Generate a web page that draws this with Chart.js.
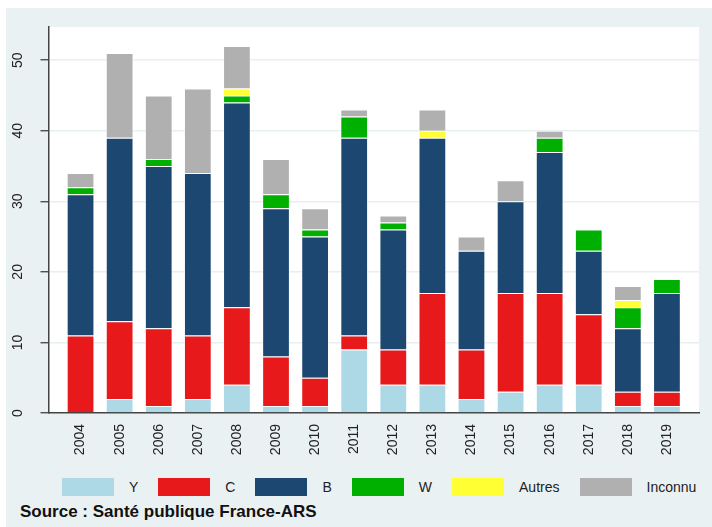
<!DOCTYPE html>
<html>
<head>
<meta charset="utf-8">
<script src="https://cdn.jsdelivr.net/npm/chart.js@4.4.0/dist/chart.umd.min.js"></script>
<style>
  body { margin: 0; background: #fff; font-family: "Liberation Sans", Arial, sans-serif; }
  #panel { position: absolute; left: 6px; top: 8px; width: 706px; height: 519px; background: #eaf1f3; }
  #box { position: absolute; left: 0; top: 0; width: 706px; height: 460px; }
  #legend { position: absolute; left: 56px; top: 470px; display: flex; align-items: center; font-size: 14px; color: #222; }
  #legend .item { display: flex; align-items: center; margin-right: 20px; }
  #legend .sw { width: 52px; height: 18px; margin-right: 15px; }
  #source { position: absolute; left: 14px; top: 494px; font-size: 17px; font-weight: bold; color: #111; }
</style>
</head>
<body>
<div id="panel">
  <div id="box"><canvas id="myChart"></canvas></div>
  <div id="legend"></div>
  <div id="source">Source : Santé publique France-ARS</div>
</div>
<script>
var years = [2004, 2005, 2006, 2007, 2008, 2009, 2010, 2011, 2012, 2013, 2014, 2015, 2016, 2017, 2018, 2019];

var serieY       = [0, 2, 1, 2, 4, 1, 1, 9, 4, 4, 2, 3, 4, 4, 1, 1];
var serieC       = [11, 11, 11, 9, 11, 7, 4, 2, 5, 13, 7, 14, 13, 10, 2, 2];
var serieB       = [20, 26, 23, 23, 29, 21, 20, 28, 17, 22, 14, 13, 20, 9, 9, 14];
var serieW       = [1, 0, 1, 0, 1, 2, 1, 3, 1, 0, 0, 0, 2, 3, 3, 2];
var serieAutres  = [0, 0, 0, 0, 1, 0, 0, 0, 0, 1, 0, 0, 0, 0, 1, 0];
var serieInconnu = [2, 12, 9, 12, 6, 5, 3, 1, 1, 3, 2, 3, 1, 0, 2, 0];

var yTicks = [0, 10, 20, 30, 40, 50];

var names  = ['Y', 'C', 'B', 'W', 'Autres', 'Inconnu'];
var series = [serieY, serieC, serieB, serieW, serieAutres, serieInconnu];
var colors = ['#add8e6', '#e8191b', '#1b4770', '#00b000', '#ffff33', '#b0b0b0'];

function points(vals) {
  return vals.map(function (v, i) { return { x: years[i], y: v === 0 ? null : v }; });
}

var datasets = [];
for (var i = 0; i < series.length; i++) {
  datasets.push({
    label: names[i],
    data: points(series[i]),
    backgroundColor: colors[i],
    borderColor: 'rgba(255,255,255,0.45)',
    borderWidth: 1,
    barPercentage: 0.71,
    categoryPercentage: 1
  });
}

// legend in html
var leg = document.getElementById('legend');
names.forEach(function (n, i) {
  var it = document.createElement('div');
  it.className = 'item';
  var sw = document.createElement('div');
  sw.className = 'sw';
  sw.style.background = colors[i];
  var tx = document.createElement('span');
  tx.textContent = n;
  it.appendChild(sw);
  it.appendChild(tx);
  leg.appendChild(it);
});

var whitePlot = {
  id: 'whitePlot',
  beforeDraw: function (chart) {
    var a = chart.chartArea, ctx = chart.ctx;
    ctx.save();
    ctx.fillStyle = '#ffffff';
    ctx.fillRect(a.left, a.top, a.right - a.left, a.bottom - a.top);
    ctx.restore();
  }
};

var ctx = document.getElementById('myChart');
var myChart = new Chart(ctx, {
  type: 'bar',
  data: { datasets: datasets },
  plugins: [whitePlot],
  options: {
    responsive: true,
    maintainAspectRatio: false,
    animation: false,
    layout: { padding: { left: 0, top: 19, right: 13, bottom: 10 } },
    plugins: {
      legend: { display: false },
      tooltip: { enabled: false }
    },
    scales: {
      x: {
        type: 'linear',
        stacked: true,
        offset: false,
        min: 2003.18,
        max: 2019.82,
        afterBuildTicks: function (s) { s.ticks = years.map(function (v) { return { value: v }; }); },
        afterFit: function (s) { s.height = 45; s.paddingLeft = 0; s.paddingRight = 0; },
        grid: { display: false },
        border: { display: true, color: '#444', width: 1.5 },
        ticks: {
          minRotation: 90,
          maxRotation: 90,
          padding: 3,
          color: '#222',
          font: { size: 14, family: '"Liberation Sans", Arial' },
          callback: function (v) { return String(v); }
        }
      },
      y: {
        stacked: true,
        min: 0,
        max: 54.7,
        afterBuildTicks: function (s) { s.ticks = yTicks.map(function (v) { return { value: v }; }); },
        afterFit: function (s) { s.width = 42.5; s.paddingTop = 0; s.paddingBottom = 0; },
        grid: { color: '#e8eff1', lineWidth: 1.5, tickColor: '#333', tickLength: 8, tickWidth: 1.2 },
        border: { display: true, color: '#444', width: 1.5 },
        ticks: {
          minRotation: 90,
          maxRotation: 90,
          crossAlign: 'center',
          padding: 14.7,
          color: '#222',
          font: { size: 14, family: '"Liberation Sans", Arial' }
        }
      }
    }
  }
});
</script>
</body>
</html>
